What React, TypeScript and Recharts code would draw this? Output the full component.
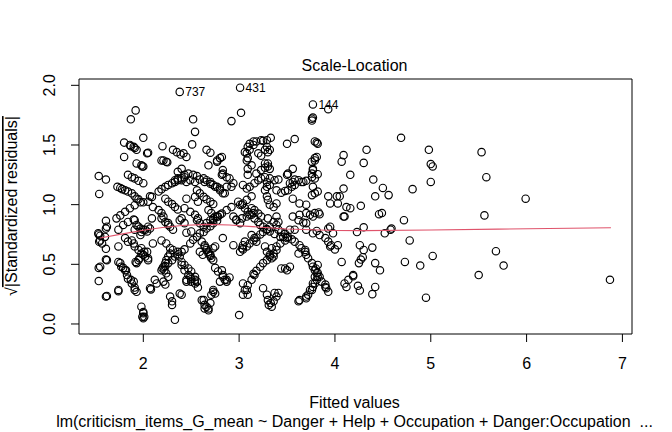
import React from "react";
import { ScatterChart, Scatter, XAxis, YAxis, ReferenceArea } from "recharts";

const FONT = '"Liberation Sans", Arial, Helvetica, sans-serif';

const band15 = [
  [1.535, 1.24], [1.61, 1.21], [1.54, 1.09], [1.535, 0.75], [1.55, 0.74], [1.54, 0.69], [1.57, 0.675],
  [1.61, 0.865], [1.62, 0.815], [1.61, 0.8], [1.53, 0.76], [1.55, 0.7], [1.6, 0.73], [1.535, 0.47],
  [1.55, 0.48], [1.61, 0.54], [1.61, 0.63], [1.62, 0.535], [1.535, 0.36], [1.61, 0.23], [1.62, 0.235],
];

const band20 = [
  [1.87, 1.715], [1.92, 1.79], [1.8, 1.52], [1.86, 1.5], [1.9, 1.485], [1.87, 1.49], [1.91, 1.475],
  [1.8, 1.4], [1.93, 1.46], [2.0, 1.56], [2.04, 1.43], [2.05, 1.435], [1.93, 1.345], [1.98, 1.33],
  [2.0, 1.32], [1.99, 1.32], [1.84, 1.25], [1.88, 1.23], [1.91, 1.22], [1.95, 1.2], [2.0, 1.18],
  [1.73, 1.15], [1.76, 1.14], [1.78, 1.13], [1.81, 1.12], [1.84, 1.11], [1.88, 1.095], [1.91, 1.07],
  [1.93, 1.05], [1.95, 1.045], [2.0, 1.02], [2.07, 1.07], [2.09, 1.065], [2.05, 1.025],
  [1.72, 0.885], [1.76, 0.91], [1.81, 0.94], [1.86, 0.97], [1.91, 0.995], [1.97, 1.02], [1.74, 0.79],
  [1.79, 0.83], [1.84, 0.855], [1.9, 0.875], [1.91, 0.79], [1.95, 0.815], [1.91, 0.87], [1.93, 0.83],
  [1.97, 0.8], [2.0, 0.79], [2.04, 0.775], [2.07, 0.8], [2.09, 0.885],
  [1.81, 0.72], [1.84, 0.69], [1.88, 0.7], [1.74, 0.65], [1.91, 0.65], [1.95, 0.62], [1.98, 0.59],
  [2.02, 0.565], [2.05, 0.55], [1.9, 0.675], [1.98, 0.635], [2.01, 0.605], [1.97, 0.745], [1.98, 0.77],
  [2.02, 0.79], [2.05, 0.815], [2.1, 0.675],
  [1.74, 0.52], [1.76, 0.51], [1.77, 0.48], [1.79, 0.47], [1.81, 0.45], [1.82, 0.45], [1.83, 0.41],
  [1.84, 0.38], [1.87, 0.37], [1.88, 0.34], [1.9, 0.355], [1.91, 0.305], [1.91, 0.285], [1.93, 0.27],
  [1.74, 0.285], [1.74, 0.275], [1.92, 0.52], [1.93, 0.51], [1.96, 0.55], [1.95, 0.535], [2.0, 0.58],
  [2.04, 0.605], [2.05, 0.535],
  [1.98, 0.145], [2.0, 0.1], [2.0, 0.09], [1.99, 0.06], [2.01, 0.06], [2.0, 0.048], [2.08, 0.29],
  [2.07, 0.3], [2.12, 0.37], [2.14, 0.34],
];

const band25 = [
  [2.2, 1.49], [2.31, 1.46], [2.39, 1.42], [2.45, 1.4], [2.35, 1.44], [2.42, 1.43], [2.21, 1.37],
  [2.25, 1.355], [2.19, 1.37], [2.24, 1.36], [2.4, 1.3], [2.36, 1.275], [2.43, 1.25], [2.47, 1.26],
  [2.52, 1.25], [2.56, 1.24], [2.51, 1.505], [2.52, 1.715], [2.54, 1.61],
  [2.16, 1.11], [2.19, 1.13], [2.23, 1.15], [2.26, 1.165], [2.3, 1.18], [2.33, 1.19], [2.36, 1.205],
  [2.4, 1.22], [2.43, 1.23], [2.33, 1.205], [2.36, 1.22], [2.4, 1.205], [2.45, 1.19], [2.49, 1.205],
  [2.54, 1.19],
  [2.23, 1.05], [2.26, 1.025], [2.3, 1.005], [2.33, 0.98], [2.36, 0.96], [2.1, 0.98], [2.16, 0.955],
  [2.19, 0.93], [2.21, 0.9], [2.26, 0.845], [2.28, 0.815], [2.31, 0.79], [2.4, 0.885], [2.43, 0.845],
  [2.45, 1.05], [2.38, 0.87], [2.43, 0.97], [2.49, 0.94], [2.54, 0.915], [2.57, 0.885], [2.19, 0.885],
  [2.23, 0.855], [2.26, 0.83],
  [2.45, 0.765], [2.5, 0.775], [2.19, 0.7], [2.24, 0.675], [2.28, 0.635],
  [2.19, 0.45], [2.21, 0.48], [2.23, 0.51], [2.24, 0.535], [2.26, 0.565], [2.28, 0.59], [2.31, 0.62],
  [2.2, 0.465], [2.23, 0.485], [2.26, 0.51], [2.3, 0.535], [2.33, 0.565], [2.36, 0.585], [2.4, 0.605],
  [2.43, 0.625],
  [2.22, 0.45], [2.24, 0.425], [2.26, 0.395], [2.21, 0.355], [2.23, 0.33], [2.28, 0.23], [2.3, 0.16],
  [2.3, 0.19], [2.4, 0.245], [2.38, 0.255], [2.33, 0.035],
  [2.36, 0.605], [2.38, 0.565], [2.4, 0.52], [2.4, 0.495], [2.43, 0.495], [2.43, 0.45], [2.47, 0.465],
  [2.47, 0.41], [2.5, 0.44], [2.5, 0.375], [2.54, 0.395], [2.54, 0.34], [2.56, 0.355], [2.57, 0.305],
  [2.45, 0.37], [2.45, 0.355], [2.49, 0.395], [2.5, 0.355], [2.54, 0.37],
];

const band28 = [
  [2.66, 1.46], [2.7, 1.435], [2.68, 1.33], [2.77, 1.37], [2.82, 1.4], [2.8, 1.39], [2.77, 1.36],
  [2.59, 1.21], [2.64, 1.19], [2.7, 1.175], [2.75, 1.15], [2.8, 1.12], [2.63, 1.22], [2.66, 1.205],
  [2.7, 1.19], [2.73, 1.165], [2.77, 1.15], [2.8, 1.135], [2.85, 1.095], [2.87, 1.15], [2.9, 1.22],
  [2.83, 1.26], [2.83, 1.095], [2.83, 1.29], [2.82, 1.25], [2.87, 1.23], [2.92, 1.15], [2.94, 1.18],
  [2.92, 1.7], [3.02, 1.77],
  [2.56, 1.12], [2.59, 1.095], [2.63, 1.065], [2.66, 1.045], [2.7, 1.025], [2.73, 1.005], [2.54, 1.065],
  [2.57, 1.025], [2.68, 0.955], [2.71, 0.93], [2.75, 0.9],
  [2.73, 0.87], [2.78, 0.9], [2.82, 0.925], [2.87, 0.955], [2.92, 0.98], [2.56, 0.87], [2.59, 0.845],
  [2.63, 0.815], [2.94, 0.9], [2.97, 0.87], [3.01, 0.845], [2.66, 0.845], [2.7, 0.87], [2.73, 0.885],
  [2.77, 0.9], [2.8, 0.915],
  [2.49, 0.675], [2.52, 0.705], [2.56, 0.73], [2.59, 0.76], [2.63, 0.77], [2.66, 0.8], [2.7, 0.82],
  [2.73, 0.845], [2.77, 0.865], [2.83, 0.72], [2.94, 0.66],
  [2.61, 0.69], [2.64, 0.66], [2.66, 0.635], [2.68, 0.605], [2.7, 0.58], [2.71, 0.55], [2.73, 0.635],
  [2.75, 0.65], [2.64, 0.65], [2.66, 0.62], [2.68, 0.59], [2.7, 0.57], [2.73, 0.535], [2.59, 0.605],
  [2.62, 0.58],
  [2.75, 0.47], [2.78, 0.44], [2.82, 0.45], [2.83, 0.395], [2.87, 0.37], [2.9, 0.39], [2.83, 0.41],
  [2.85, 0.37], [2.8, 0.355], [2.87, 0.355],
  [2.63, 0.2], [2.64, 0.16], [2.68, 0.13], [2.7, 0.175], [2.61, 0.2], [2.66, 0.145], [2.68, 0.115],
  [2.64, 0.13], [2.73, 0.285], [2.75, 0.255], [2.73, 0.27], [2.71, 0.245], [3.0, 0.075],
];

const band33 = [
  [3.06, 1.44], [3.09, 1.485], [3.11, 1.51], [3.15, 1.53], [3.08, 1.43], [3.11, 1.46], [3.15, 1.5],
  [3.18, 1.53], [3.23, 1.54], [3.09, 1.39], [3.08, 1.37], [3.13, 1.33], [3.09, 1.3], [3.09, 1.25],
  [3.18, 1.26], [3.23, 1.29], [3.27, 1.31], [3.3, 1.345], [3.25, 1.535], [3.29, 1.485], [3.32, 1.46],
  [3.33, 1.56], [3.29, 1.54], [3.27, 1.46], [3.3, 1.44], [3.2, 1.43], [3.23, 1.41], [3.27, 1.345],
  [3.3, 1.32], [3.32, 1.3],
  [3.04, 1.165], [3.08, 1.135], [3.11, 1.15], [3.16, 1.18], [3.2, 1.205], [3.23, 1.22], [3.27, 1.23],
  [3.32, 1.22], [3.37, 1.205], [3.41, 1.21], [3.29, 1.19], [3.32, 1.165], [3.27, 1.12], [3.29, 1.15],
  [3.08, 1.04], [3.04, 1.01], [3.01, 1.0], [3.13, 1.07], [2.99, 1.025], [3.03, 1.0], [3.06, 0.97],
  [3.09, 0.94], [3.13, 0.915], [3.16, 0.885], [3.2, 0.855], [3.22, 0.83], [3.25, 0.815], [3.29, 0.79],
  [3.32, 0.775], [3.37, 0.755], [3.43, 0.73], [3.46, 0.73], [3.48, 0.7],
  [3.29, 1.07], [3.3, 1.04], [3.32, 1.0], [3.39, 1.01], [3.36, 0.98], [3.39, 1.12], [3.44, 1.1],
  [3.48, 1.115], [3.51, 1.12], [3.55, 1.15], [3.58, 1.165], [3.53, 1.18], [3.56, 1.19], [3.56, 1.05],
  [3.5, 1.25], [3.51, 1.26], [3.56, 1.3], [3.5, 1.51], [3.58, 1.55],
  [2.97, 0.875], [3.03, 0.885], [3.08, 0.9], [3.11, 0.915], [3.15, 0.93], [3.13, 0.97], [3.16, 0.955],
  [3.2, 0.925], [3.23, 0.9], [3.3, 0.885], [3.36, 0.855], [3.39, 0.83], [3.41, 0.855], [3.39, 0.9],
  [3.53, 0.79],
  [3.13, 0.745], [3.16, 0.72], [3.18, 0.69], [3.01, 0.605], [3.03, 0.635], [3.04, 0.66], [3.06, 0.69],
  [3.04, 0.625], [3.08, 0.65], [3.11, 0.675], [3.15, 0.7], [3.18, 0.725], [3.22, 0.75], [3.25, 0.77],
  [3.29, 0.795], [3.32, 0.815],
  [3.15, 0.42], [3.18, 0.445], [3.22, 0.48], [3.25, 0.51], [3.29, 0.535], [3.32, 0.565], [3.36, 0.59],
  [3.39, 0.62], [3.04, 0.245], [3.06, 0.285], [3.09, 0.325], [3.13, 0.37], [3.16, 0.41], [3.04, 0.34],
  [3.08, 0.285], [3.09, 0.245],
  [3.25, 0.3], [3.29, 0.245], [3.3, 0.2], [3.31, 0.16], [3.34, 0.145], [3.36, 0.19], [3.39, 0.23],
  [3.41, 0.26], [3.37, 0.26], [3.33, 0.175],
  [3.44, 0.465], [3.5, 0.45], [3.53, 0.48], [3.48, 0.465],
  [3.41, 0.79], [3.44, 0.77], [3.48, 0.755], [3.51, 0.73], [3.55, 0.71], [3.58, 0.69], [3.5, 0.72],
  [3.43, 0.675], [3.39, 0.65], [3.34, 0.635], [3.27, 0.65], [3.29, 0.605], [3.32, 0.58], [3.34, 0.55],
  [3.36, 0.565],
];

const band38 = [
  [3.93, 1.8], [3.76, 1.72], [3.76, 1.705], [3.77, 1.73], [3.79, 1.53], [3.82, 1.51], [3.81, 1.52],
  [3.77, 1.3], [3.79, 1.37], [3.81, 1.4], [3.76, 1.36], [3.79, 1.39], [3.76, 1.26], [3.77, 1.29],
  [3.82, 1.255], [3.79, 1.22], [3.58, 1.21], [3.65, 1.19], [3.7, 1.2], [3.62, 1.205], [3.67, 1.19],
  [3.76, 1.23], [3.77, 1.15], [3.79, 1.095], [3.82, 1.11], [3.76, 1.08], [3.93, 1.07], [3.95, 1.01],
  [4.02, 1.07], [4.09, 1.415], [4.07, 1.36], [4.09, 1.135], [4.05, 1.07], [4.03, 1.01], [4.12, 0.98],
  [4.1, 0.9],
  [3.63, 1.01], [3.7, 1.0], [3.56, 0.9], [3.62, 0.87], [3.67, 0.85], [3.7, 0.845], [3.74, 0.915],
  [3.79, 0.93], [3.83, 0.935], [3.84, 0.92], [3.77, 0.9], [3.63, 0.915], [3.7, 0.93],
  [3.58, 0.79], [3.7, 0.79], [3.77, 0.76], [3.81, 0.78], [3.84, 0.745], [3.9, 0.72], [3.93, 0.69],
  [3.96, 0.66], [4.0, 0.625], [3.95, 0.815], [3.98, 0.76], [3.93, 0.8], [4.03, 0.66], [4.09, 0.9],
  [3.95, 0.65],
  [3.63, 0.66], [3.65, 0.635], [3.69, 0.605], [3.7, 0.58], [3.72, 0.55], [3.62, 0.59], [3.69, 0.62],
  [3.76, 0.51], [3.77, 0.48], [3.79, 0.45], [3.81, 0.425], [3.82, 0.395], [3.81, 0.37], [3.79, 0.34],
  [3.77, 0.31], [3.76, 0.285], [3.72, 0.245], [3.7, 0.215], [3.63, 0.2], [3.7, 0.23], [3.74, 0.285],
  [3.77, 0.34], [3.79, 0.395], [3.82, 0.495], [3.8, 0.465], [3.82, 0.43], [3.84, 0.395], [3.86, 0.355],
  [3.9, 0.31], [3.93, 0.27], [3.9, 0.33], [3.91, 0.3], [3.62, 0.19],
  [4.07, 0.52], [4.1, 0.34], [4.12, 0.31], [4.14, 0.37], [4.19, 0.41],
];

const bandHigh = [
  [4.69, 1.56], [4.33, 1.46], [4.98, 1.46], [5.53, 1.44], [4.3, 1.35], [5.0, 1.34], [5.02, 1.32],
  [4.16, 1.25], [5.58, 1.23], [4.4, 1.21], [4.5, 1.14], [4.81, 1.13], [5.0, 1.19], [4.42, 1.07],
  [4.56, 1.08], [4.27, 0.99], [4.16, 0.97], [4.46, 0.92], [4.49, 0.93], [5.56, 0.91], [4.72, 0.87],
  [4.3, 0.81], [4.23, 0.77], [4.52, 0.76], [4.58, 0.79], [4.59, 0.8], [4.78, 0.7], [4.26, 0.66],
  [4.39, 0.64], [4.3, 0.62], [4.29, 0.56], [4.27, 0.54], [4.25, 0.51], [4.42, 0.51], [4.47, 0.45],
  [4.73, 0.52], [4.89, 0.49], [5.02, 0.57], [5.5, 0.41], [4.19, 0.4], [4.24, 0.32], [4.26, 0.28],
  [4.42, 0.31], [4.39, 0.25], [4.95, 0.22], [5.99, 1.05], [5.68, 0.61], [5.76, 0.49], [6.87, 0.37],
];

// the three most extreme points, labelled by observation number
const labelledFitted = [2.38, 3.01, 3.77];
const labelledResid = [1.945, 1.98, 1.84];
const labelledIds = ["737", "431", "144"];

// red lowess smoother
const smoothFitted = [1.55, 1.8, 2.0, 2.2, 2.4, 2.66, 2.9, 3.1, 3.5, 4.0, 4.3, 5.0, 5.7, 6.88];
const smoothLevel = [0.72, 0.757, 0.785, 0.808, 0.825, 0.835, 0.829, 0.818, 0.796, 0.784, 0.782, 0.788, 0.795, 0.806];

const xTicks = [2, 3, 4, 5, 6, 7];
const yTicks = [0, 0.5, 1, 1.5, 2];

const points = [
  ...band15, ...band20, ...band25, ...band28, ...band33, ...band38, ...bandHigh,
].map(([x, y]) => ({ x, y, label: "" }));
labelledFitted.forEach((x, i) => points.push({ x, y: labelledResid[i], label: labelledIds[i] }));

const smoothData = smoothFitted.map((x, i) => ({ x, y: smoothLevel[i] }));

function Ring(props: any) {
  const { cx, cy, payload } = props;
  if (cx == null || cy == null) return <g />;
  return (
    <g>
      <circle cx={cx} cy={cy} r={3.7} fill="none" stroke="#000" strokeWidth={1.15} />
      {payload && payload.label ? (
        <text x={cx + 5.5} y={cy + 4.3} fontSize={12} fontFamily={FONT} fill="#000">
          {payload.label}
        </text>
      ) : null}
    </g>
  );
}

const XTick = (props: any) => (
  <text x={props.x} y={369} textAnchor="middle" fontSize={16} fontFamily={FONT} fill="#000">
    {props.payload.value}
  </text>
);

const YTick = (props: any) => {
  const y = props.y;
  return (
    <text
      x={55.5}
      y={y}
      transform={`rotate(-90, 55.5, ${y})`}
      textAnchor="middle"
      fontSize={16}
      fontFamily={FONT}
      fill="#000"
    >
      {Number(props.payload.value).toFixed(1)}
    </text>
  );
};

export default function App() {
  return (
    <div style={{ position: "absolute", left: 0, top: 0, width: 672, height: 432, background: "#fff" }}>
      <ScatterChart width={672} height={432} margin={{ top: 79, right: 40, bottom: 0, left: 0 }}>
        <XAxis
          type="number"
          dataKey="x"
          domain={[1.329, 7.1]}
          ticks={xTicks}
          interval={0}
          allowDataOverflow
          height={98}
          axisLine={false}
          tickLine={{ stroke: "#000" }}
          tickSize={8}
          tick={<XTick />}
        />
        <YAxis
          type="number"
          dataKey="y"
          domain={[-0.084, 2.053]}
          ticks={yTicks}
          interval={0}
          allowDataOverflow
          width={79}
          axisLine={false}
          tickLine={{ stroke: "#000" }}
          tickSize={8}
          tick={<YTick />}
        />
        <ReferenceArea
          x1={1.329}
          x2={7.1}
          y1={-0.084}
          y2={2.053}
          ifOverflow="visible"
          fill="none"
          fillOpacity={0}
          stroke="#000"
          strokeWidth={1}
        />
        <Scatter data={points} shape={Ring} isAnimationActive={false} />
        <Scatter
          data={smoothData}
          line={{ stroke: "#DF536B", strokeWidth: 1.1 }}
          shape={() => <g />}
          isAnimationActive={false}
        />
      </ScatterChart>
      <svg
        width={672}
        height={432}
        style={{ position: "absolute", left: 0, top: 0, pointerEvents: "none" }}
        fontFamily={FONT}
      >
        <text x={354.5} y={71} textAnchor="middle" fontSize={16} fill="#000">
          Scale-Location
        </text>
        <text x={354.5} y={408} textAnchor="middle" fontSize={16} fill="#000">
          Fitted values
        </text>
        <text x={354.5} y={426.5} textAnchor="middle" fontSize={16} fill="#000" style={{ whiteSpace: "pre" }}>
          {"lm(criticism_items_G_mean ~ Danger + Help + Occupation + Danger:Occupation  ..."}
        </text>
        <text transform="translate(17, 206) rotate(-90)" textAnchor="middle" fontSize={16} fill="#000">
          √<tspan style={{ textDecoration: "overline" }}>|Standardized residuals|</tspan>
        </text>
      </svg>
    </div>
  );
}
